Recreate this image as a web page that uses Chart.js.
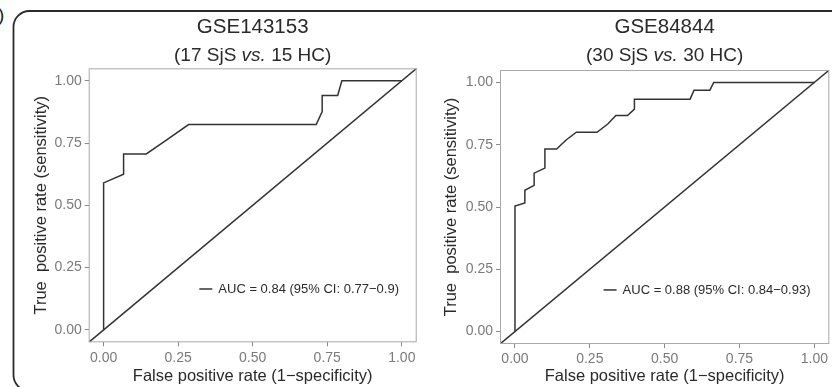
<!DOCTYPE html>
<html>
<head>
<meta charset="utf-8">
<script src="https://cdn.jsdelivr.net/npm/chart.js@4/dist/chart.umd.min.js"></script>
<style>
  html, body { margin: 0; padding: 0; background: #fff; }
  #wrap { position: relative; width: 832px; height: 387px; overflow: hidden; font-family: "Liberation Sans", Arial, sans-serif; }
  #frame { position: absolute; left: 0; top: 0; }
  #tag { position: absolute; left: -2px; top: 4px; font-size: 19px; color: #222; }
  canvas { position: absolute; top: 0; }
</style>
</head>
<body>
<div id="wrap">
  <svg id="frame" width="832" height="387">
    <rect x="13.5" y="11" width="880" height="380" rx="16" ry="16" fill="none" stroke="#2b2b2b" stroke-width="1.8"/>
  </svg>
  <div id="tag">)</div>
  <canvas id="rocA" width="420" height="387" style="left:0px"></canvas>
  <canvas id="rocB" width="412" height="387" style="left:420px"></canvas>
</div>
<script>
// GSE143153 (17 SjS vs 15 HC)
var fprA = [0, 0, 0.067, 0.067, 0.143, 0.202, 0.285, 0.713, 0.733, 0.733, 0.785, 0.799, 1.0];
var tprA = [0, 0.59, 0.625, 0.706, 0.706, 0.755, 0.824, 0.824, 0.876, 0.941, 0.941, 1.0, 1.0];

// GSE84844 (30 SjS vs 30 HC)
var fprB = [0, 0, 0.033, 0.033, 0.064, 0.064, 0.1, 0.1, 0.139, 0.172, 0.205, 0.274, 0.31, 0.337, 0.376, 0.399, 0.399, 0.585, 0.598, 0.651, 0.664, 1.0];
var tprB = [0, 0.504, 0.516, 0.567, 0.587, 0.636, 0.656, 0.733, 0.733, 0.77, 0.8, 0.8, 0.833, 0.867, 0.867, 0.893, 0.933, 0.933, 0.969, 0.969, 1.0, 1.0];

var tickValues = [0, 0.25, 0.5, 0.75, 1];
var datasetNames = ["GSE143153", "GSE84844"];
var groupLabels = [["(17 SjS ", "vs.", " 15 HC)"], ["(30 SjS ", "vs.", " 30 HC)"]];
var aucLabels = ["AUC = 0.84 (95% CI: 0.77\u22120.9)", "AUC = 0.88 (95% CI: 0.84\u22120.93)"];

var FONT = "'Liberation Sans', Arial, sans-serif";
var INK = "#333333";
var AXIS_TITLE_SIZE = 16.5;

function toPoints(xs, ys) {
    return xs.map(function (x, i) { return {x: x, y: ys[i]}; });
}

// box around the panel, titles and the AUC key
var panelDecor = {
    id: "panelDecor",
    afterDraw: function (chart) {
        var o = chart.options.plugins.panelDecor;
        var ctx = chart.ctx;
        var a = chart.chartArea;
        ctx.save();
        ctx.strokeStyle = "#a9a9a9";
        ctx.lineWidth = 1;
        ctx.strokeRect(a.left + 0.5, a.top + 0.5, a.right - a.left - 1, a.bottom - a.top - 1);

        var cx = (a.left + a.right) / 2;
        ctx.fillStyle = "#2a2a2a";
        ctx.textBaseline = "middle";
        ctx.textAlign = "center";
        ctx.font = "20.5px " + FONT;
        ctx.fillText(o.title, cx, o.titleY);

        // subtitle, "vs." in italics
        var parts = o.sub;
        var fonts = ["19px " + FONT, "italic 19px " + FONT, "19px " + FONT];
        var total = 0, w = [];
        parts.forEach(function (p, i) {
            ctx.font = fonts[i];
            w[i] = ctx.measureText(p).width;
            total += w[i];
        });
        var x = cx - total / 2;
        ctx.textAlign = "left";
        parts.forEach(function (p, i) {
            ctx.font = fonts[i];
            ctx.fillText(p, x, o.subY);
            x += w[i];
        });

        // AUC key
        var sx = chart.scales.x, sy = chart.scales.y;
        var kx = sx.getPixelForValue(o.keyAt[0]);
        var ky = sy.getPixelForValue(o.keyAt[1]);
        ctx.strokeStyle = INK;
        ctx.lineWidth = 1.5;
        ctx.beginPath();
        ctx.moveTo(kx, ky);
        ctx.lineTo(kx + 13, ky);
        ctx.stroke();
        ctx.font = "13px " + FONT;
        ctx.fillStyle = "#2a2a2a";
        ctx.fillText(o.key, kx + 19, ky + 0.5);
        ctx.restore();
    }
};

function makeRoc(canvasId, xs, ys, p) {
    var canvas = document.getElementById(canvasId);
    var W = canvas.width, H = canvas.height;
    var half = AXIS_TITLE_SIZE * 0.6;
    var axisOpts = function (horizontal, label, titlePad) {
        return {
            type: "linear",
            min: -0.05,
            max: 1.05,
            afterBuildTicks: function (scale) {
                scale.ticks = tickValues.map(function (v) { return {value: v}; });
            },
            afterFit: function (scale) {
                if (horizontal) scale.height = H - p.bottom;
                else scale.width = p.left;
            },
            grid: {display: true, drawOnChartArea: false, drawTicks: true, tickLength: 4, color: "#8a8a8a"},
            border: {display: false},
            ticks: {
                padding: 3,
                color: "#7a7a7a",
                font: {family: FONT, size: 14},
                maxRotation: 0,
                callback: function (v) { return Number(v).toFixed(2); }
            },
            title: {
                display: true,
                text: label,
                color: "#2a2a2a",
                font: {family: FONT, size: AXIS_TITLE_SIZE},
                padding: titlePad
            }
        };
    };
    return new Chart(canvas.getContext("2d"), {
        type: "scatter",
        data: {
            datasets: [{
                data: toPoints(xs, ys),
                showLine: true,
                borderColor: INK,
                borderWidth: 1.5,
                pointRadius: 0,
                tension: 0
            }, {
                data: toPoints([-0.05, 1.05], [-0.05, 1.05]),
                showLine: true,
                borderColor: INK,
                borderWidth: 1.5,
                pointRadius: 0
            }]
        },
        options: {
            responsive: false,
            animation: false,
            events: [],
            layout: {padding: {left: 0, top: p.top, right: W - p.right, bottom: 0}},
            scales: {
                x: axisOpts(true, "False positive rate (1\u2212specificity)", {top: 0, bottom: Math.max(0, H - 376.7 - half)}),
                y: axisOpts(false, "True  positive rate (sensitivity)", {top: p.yTitle - half, bottom: 0})
            },
            plugins: {
                legend: {display: false},
                tooltip: {enabled: false},
                panelDecor: {
                    title: p.title,
                    sub: p.sub,
                    titleY: 27,
                    subY: 56,
                    key: p.key,
                    keyAt: p.keyAt
                }
            }
        },
        plugins: [panelDecor]
    });
}

makeRoc("rocA", fprA, tprA, {
    left: 88.7, right: 416.7, top: 68.3, bottom: 342.3, yTitle: 41.7,
    title: datasetNames[0], sub: groupLabels[0], key: aucLabels[0], keyAt: [0.321, 0.164]
});
makeRoc("rocB", fprB, tprB, {
    left: 80, right: 409.3, top: 70, bottom: 344, yTitle: 31.7,
    title: datasetNames[1], sub: groupLabels[1], key: aucLabels[1], keyAt: [0.296, 0.167]
});
</script>
</body>
</html>
